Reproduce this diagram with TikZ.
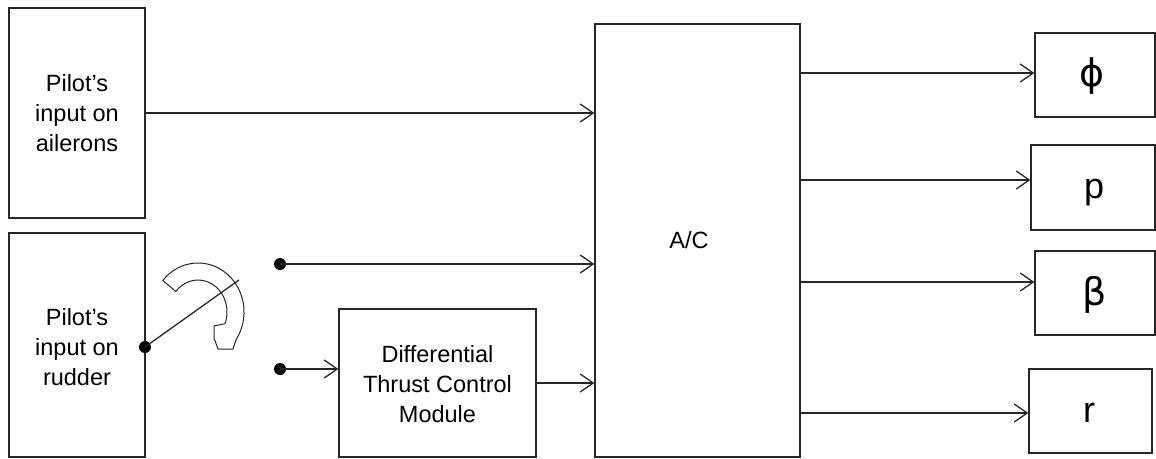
\documentclass[tikz,border=0pt]{standalone}
\usepackage{fontspec}
\setmainfont{Liberation Sans}
\newfontfamily\djv{DejaVu Sans}
\usetikzlibrary{arrows.meta}
\begin{document}
\begin{tikzpicture}[x=1pt,y=-1pt,
  box/.style={draw=black!85,line width=1.3pt,minimum width=#1,inner sep=0pt},
  lbl/.style={font=\fontsize{23.5}{30}\selectfont,align=center,inner sep=0pt},
  big/.style={font=\fontsize{36}{40}\selectfont,inner sep=0pt},
  arr/.style={draw=black!85,line width=1.3pt,-{Straight Barb[length=13pt,width=18pt,line width=1.3pt]}},
  ln/.style={draw=black!85,line width=1.3pt},
  dot/.style={circle,fill=black,inner sep=0pt,minimum size=12pt}]
\useasboundingbox (0,0) rectangle (1156,458);
% boxes
\node[box=136pt,minimum height=210pt] (ail) at (77,113) {};
\node[box=136pt,minimum height=224pt] (rud) at (77,345) {};
\node[box=205pt,minimum height=433pt] (ac) at (697.5,240.5) {};
\node[box=197pt,minimum height=148pt] (diff) at (437.5,383) {};
\node[box=120pt,minimum height=84pt] (phi) at (1095,75) {};
\node[box=124pt,minimum height=85pt] (p) at (1093,187.5) {};
\node[box=120pt,minimum height=84pt] (beta) at (1095,293) {};
\node[box=123pt,minimum height=84pt] (r) at (1090.5,411) {};
% labels
\node[lbl] (ailtxt) at (77,113) {Pilot’s\\input on\\ailerons};
\node[lbl] (rudtxt) at (77,347) {Pilot’s\\input on\\rudder};
\node[lbl] (actxt) at (689,240) {A/C};
\node[lbl] (difftxt) at (437.5,384) {Differential\\Thrust Control\\Module};
\node[inner sep=0pt,font=\djv\fontsize{38}{40}\selectfont] (phitxt) at (1092,76) {ϕ};
\node[big] (ptxt) at (1094,193) {p};
\node[inner sep=0pt,font=\djv\fontsize{38}{40}\selectfont] (betatxt) at (1095,295) {β};
\node[big] (rtxt) at (1089,413) {r};
% dots and switch
\node[dot] (d0) at (145,347) {};
\node[dot] (d1) at (280,264) {};
\node[dot] (d2) at (280,369) {};
\coordinate (sw) at (239,280);
\draw[ln] (d0.center) -- (sw);
% curved hollow arrow
\draw[black!85,line width=1pt,line join=round]
  (162.8,280.5)
  arc[start angle=-140,end angle=34,x radius=46,y radius=49]
  -- (233,349) -- (218,349) -- (214,338) -- (214,326) -- (225,323.7)
  arc[start angle=21.4,end angle=-140,x radius=29,y radius=32]
  -- cycle;
% coordinates for connector heights
\coordinate (yphi) at (0,73);
\coordinate (yp) at (0,180);
\coordinate (ybeta) at (0,282);
\coordinate (yr) at (0,413);
% connectors
\draw[arr] (ail.east) -- (ail.east -| ac.west);
\draw[arr] (d1.center) -- (d1.center -| ac.west);
\draw[arr] (d2.center) -- (d2.center -| diff.west);
\draw[arr] (diff.east) -- (diff.east -| ac.west);
\draw[arr] (ac.east |- yphi) -- (phi.west |- yphi);
\draw[arr] (ac.east |- yp) -- (p.west |- yp);
\draw[arr] (ac.east |- ybeta) -- (beta.west |- ybeta);
\draw[arr] (ac.east |- yr) -- (r.west |- yr);
\end{tikzpicture}
\end{document}
